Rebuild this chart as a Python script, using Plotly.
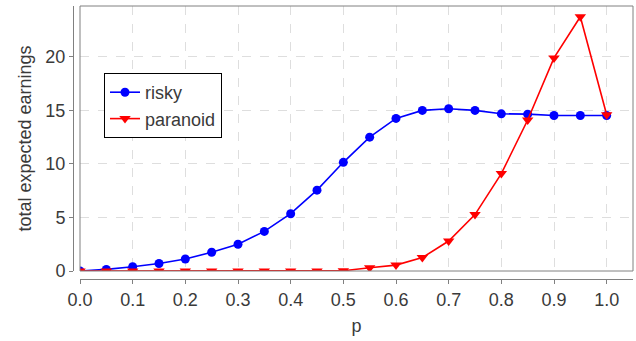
import plotly.graph_objects as go

p = [0.0, 0.05, 0.1, 0.15, 0.2, 0.25, 0.3, 0.35, 0.4, 0.45, 0.5,
     0.55, 0.6, 0.65, 0.7, 0.75, 0.8, 0.85, 0.9, 0.95, 1.0]
risky = [0.0, 0.15, 0.4, 0.7, 1.12, 1.75, 2.5, 3.7, 5.35, 7.55, 10.15,
         12.5, 14.25, 15.0, 15.15, 15.0, 14.68, 14.65, 14.52, 14.52, 14.52]
paranoid = [0.0, 0.0, 0.0, 0.0, 0.0, 0.0, 0.0, 0.0, 0.0, 0.0, 0.03,
            0.3, 0.55, 1.25, 2.8, 5.27, 9.1, 14.1, 19.9, 23.75, 14.6]

x_ticks = [0.0, 0.1, 0.2, 0.3, 0.4, 0.5, 0.6, 0.7, 0.8, 0.9, 1.0]
y_ticks = [0, 5, 10, 15, 20]

FONT = "Liberation Sans"
TEXT = "#3a3a3a"
SIZE = 18
W, H = 636, 341
ML, MR, MT, MB = 73, 3, 6, 62
plot_w = W - ML - MR
plot_h = H - MT - MB

fig = go.Figure()
fig.add_trace(go.Scatter(
    x=p, y=risky, name="risky", mode="lines+markers",
    line=dict(color="#0000ff", width=1.6),
    marker=dict(symbol="circle", size=9, color="#0000ff"),
))
fig.add_trace(go.Scatter(
    x=p, y=paranoid, name="paranoid", mode="lines+markers",
    line=dict(color="#ff0000", width=1.6),
    marker=dict(symbol="triangle-down", size=10, color="#ff0000"),
))

axis_style = dict(showgrid=True, gridcolor="#dedede", griddash="dash", gridwidth=1,
                  zeroline=False, showline=True, linecolor="#808080", linewidth=1,
                  ticks="outside", ticklen=4, tickcolor="#808080",
                  tickfont=dict(family=FONT, size=SIZE, color=TEXT))

fig.update_layout(
    width=W, height=H,
    margin=dict(l=ML, r=MR, t=MT, b=MB, pad=0),
    paper_bgcolor="white", plot_bgcolor="white",
    font=dict(family=FONT, size=SIZE, color=TEXT),
    xaxis=dict(range=[0, 1.05], domain=[7 / plot_w, 1], anchor="free", position=0,
               tickvals=x_ticks, tickformat=".1f",
               title=dict(text="p", standoff=10, font=dict(family=FONT, size=SIZE, color=TEXT)),
               **axis_style),
    yaxis=dict(range=[0, 24.75], domain=[8 / plot_h, 1], anchor="free", position=0,
               tickvals=y_ticks,
               title=dict(text="total expected earnings", standoff=8,
                          font=dict(family=FONT, size=SIZE, color=TEXT)),
               **axis_style),
    legend=dict(x=(104 - ML) / plot_w, y=(279 - 73) / plot_h, xanchor="left", yanchor="top",
                bgcolor="white", bordercolor="black", borderwidth=1,
                font=dict(family=FONT, size=SIZE, color=TEXT), itemwidth=30,
                tracegroupgap=0),
    showlegend=True,
)

# frame around the data area
fig.add_shape(type="rect", xref="x domain", yref="y domain", x0=0, x1=1, y0=0, y1=1,
              line=dict(color="#808080", width=1), fillcolor="rgba(0,0,0,0)", layer="above")

fig.write_html("out.html")
